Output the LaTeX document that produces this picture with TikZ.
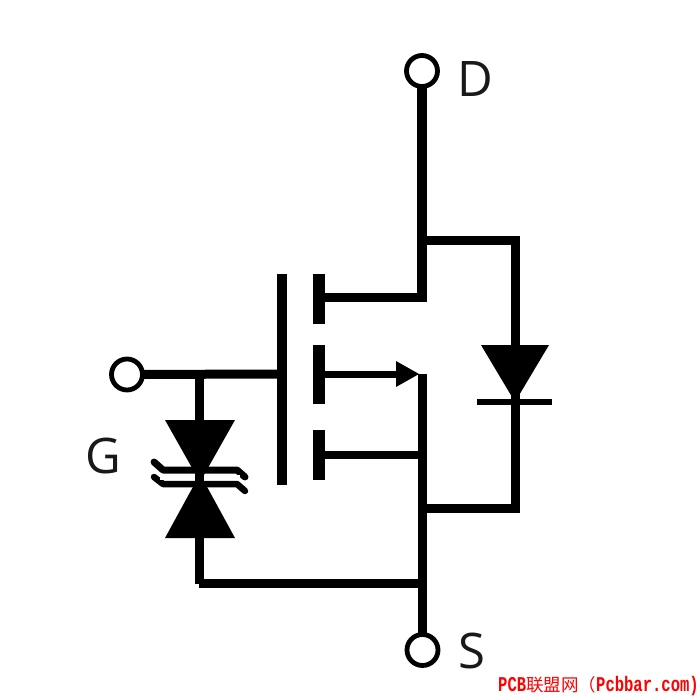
\documentclass[tikz,border=0pt]{standalone}
\usepackage{fontspec}
\setmainfont{Open Sans}
\newfontfamily\wmlatin[FakeStretch=0.74]{Liberation Mono}
\newfontfamily\wmcjk{Noto Sans CJK SC}
\begin{document}
\begin{tikzpicture}[x=1pt,y=-1pt,
  terminal/.style={circle,draw=black,line width=4.8pt,fill=white,minimum size=31pt,inner sep=0pt,outer sep=0pt},
  wire/.style={draw=black,line width=9pt,line cap=butt,line join=miter},
  bendbar/.style={draw=black,line width=7pt,line join=round,line cap=round},
  plate/.style={fill=black,draw=none},
  solid tri/.style={fill=black,draw=none},
  pinlabel/.style={font=\fontsize{49}{49}\selectfont,text=black!90,inner sep=0pt}]
\useasboundingbox (0,0) rectangle (700,700);
\fill[white] (0,0) rectangle (700,700);
% anchors
\coordinate (jd) at (422,241);
\coordinate (dtop) at (515,241);
\coordinate (dbot) at (515,508.5);
\coordinate (js) at (422,508.5);
\coordinate (drainT) at (422,301.5);
\coordinate (drainH) at (427,297.5);
\coordinate (srcT) at (422.5,374);
\coordinate (bodyT) at (422.5,455);
\coordinate (bot) at (422.5,583.5);
\coordinate (zbot) at (199.5,583.5);
\coordinate (ztop) at (199.5,374);
\coordinate (gatecontact) at (282,374);
\coordinate (plateD) at (320,297.5);
\coordinate (plateS) at (320,374);
\coordinate (plateB) at (320,455);
\coordinate (arrowbase) at (398,374);
% terminals
\node[terminal] (D) at (422,71) {};
\node[terminal] (S) at (422.5,650) {};
\node[terminal] (G) at (127,374.5) {};
% wires
\draw[wire,line width=9.5pt] (D) -- (drainT);
\draw[wire] (jd) -- (dtop) -- (dbot) -- (js);
\draw[wire] (plateD) -- (drainH);
\draw[wire,line width=7pt] (plateS) -- (arrowbase);
\draw[wire,line width=7.5pt] (plateB) -- (bodyT);
\draw[wire,line width=9.5pt] (srcT) -- (S);
\draw[wire] ([xshift=-0.5pt]zbot) -- (bot);
\draw[wire] (zbot) -- (ztop);
\draw[wire] (G) -- (gatecontact);
% gate and channel plates
\fill[plate] (277,274) rectangle (287,485);
\fill[plate] (313,274) rectangle (325,324);
\fill[plate] (313,345) rectangle (325,404);
\fill[plate] (313,430) rectangle (325,480);
% arrow head
\fill[solid tri] (396,361) -- (419,374) -- (396,387) -- cycle;
% body diode
\fill[solid tri] (481,345) -- (549,345) -- (515,402) -- cycle;
\draw[wire,line width=6pt] (477,402) -- (552,402);
% back-to-back zener
\fill[solid tri] (165,420) -- (235,420) -- (200,482) -- cycle;
\fill[solid tri] (165,538) -- (235,538) -- (200,474) -- cycle;
\draw[bendbar] (154,462) -- (163,470) -- (237,470) -- (245,477);
\draw[bendbar,line width=6.5pt] (154,477) -- (163,484) -- (237,484) -- (245,491);
\fill[white] (160,475) rectangle (195,480);
\fill[white] (205,475) rectangle (240,480);
% labels
\node[pinlabel] (Dl) at (475,79) {D};
\node[pinlabel] (Gl) at (103,456) {G};
\node[pinlabel] (Sl) at (472,651) {S};
\node[anchor=west,inner sep=0pt,text=red] (wm) at (498,686) {\wmlatin\bfseries\fontsize{21}{21}\selectfont PCB{\wmcjk\mdseries\fontsize{17.5}{17.5}\selectfont 联盟网（}Pcbbar.com)};
\end{tikzpicture}
\end{document}
